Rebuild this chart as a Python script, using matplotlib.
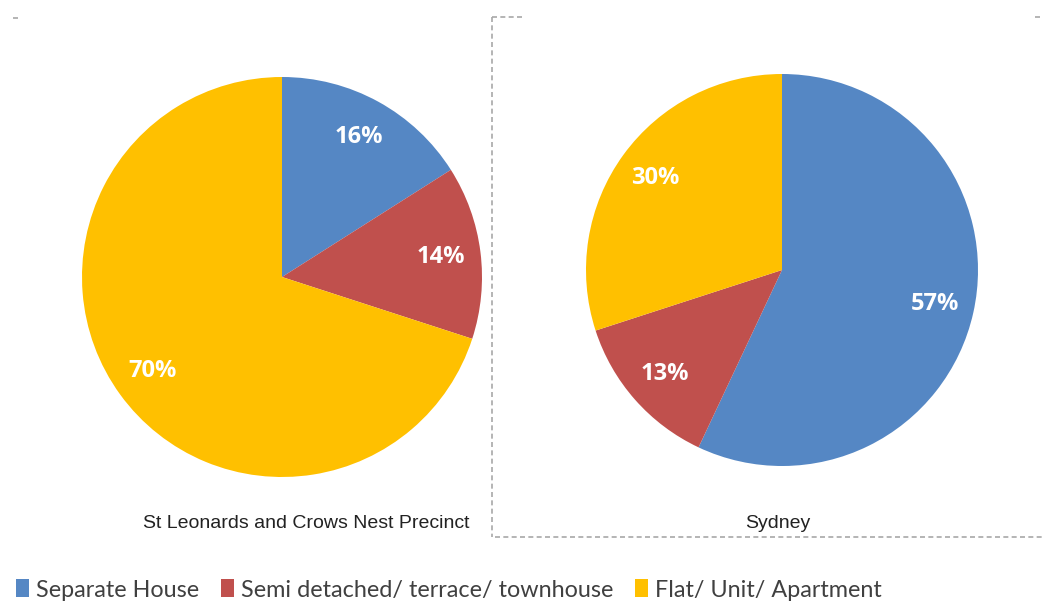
import matplotlib
matplotlib.use("Agg")
import matplotlib.pyplot as plt
from matplotlib.lines import Line2D
from matplotlib.patches import Patch

categories = ["Separate House", "Semi detached/ terrace/ townhouse", "Flat/ Unit/ Apartment"]
precinct_values = [16, 14, 70]
sydney_values = [57, 13, 30]
titles = ["St Leonards and Crows Nest Precinct", "Sydney"]
colors = ["#5587C4", "#C0504D", "#FFC000"]

W, H = 1043, 601
fig = plt.figure(figsize=(W / 100, H / 100), dpi=100)
fig.patch.set_facecolor("white")

def px_axes(left, top, size):
    return fig.add_axes([left / W, (H - top - size) / H, size / W, size / H])

def draw_pie(ax, vals):
    wedges, texts, autotexts = ax.pie(
        vals, colors=colors, startangle=90, counterclock=False,
        autopct=lambda p: f"{p:.0f}%", pctdistance=0.8, radius=1,
        wedgeprops=dict(linewidth=0),
        textprops=dict(color="white", fontsize=17, fontweight="bold", family="Open Sans"))
    ax.set_xlim(-1, 1)
    ax.set_ylim(-1, 1)
    ax.axis("off")
    return wedges

ax1 = px_axes(82, 77, 400)
draw_pie(ax1, precinct_values)
ax2 = px_axes(586, 74, 392)
draw_pie(ax2, sydney_values)

fig.text(306 / W, 1 - 524 / H, titles[0], ha="center", va="center", fontsize=14,
         family="Liberation Sans", color="#222222")
fig.text(778 / W, 1 - 524 / H, titles[1], ha="center", va="center", fontsize=14,
         family="Liberation Sans", color="#222222")

lc = "#A8A8A8"
def fline(x0, y0, x1, y1):
    fig.add_artist(Line2D([x0 / W, x1 / W], [1 - y0 / H, 1 - y1 / H], color=lc,
                          linestyle=(0, (3, 2)), linewidth=1.2, transform=fig.transFigure))

fline(492, 17, 492, 537)
fline(492, 17, 522, 17)
fline(495, 537, W, 537)
fline(13, 18, 18, 18)
fline(1035, 17, 1040, 17)

handles = [Patch(facecolor=c, edgecolor="none") for c in colors]
fig.legend(handles, categories, loc="center left", bbox_to_anchor=(4 / W, 1 - 590 / H),
           ncol=3, frameon=False, handlelength=0.55, handleheight=0.8, handletextpad=0.3,
           columnspacing=0.95, borderpad=0, labelcolor="#404040",
           prop=dict(family="Lato", size=16.8))

fig.savefig("out.png", dpi=100, facecolor="white")
